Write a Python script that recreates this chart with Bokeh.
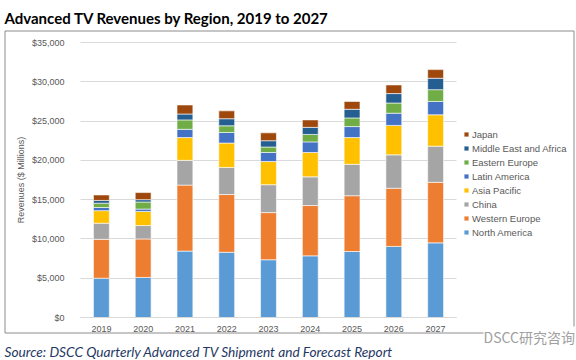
from bokeh.plotting import figure
from bokeh.models import (Label, Legend, LegendItem, LinearAxis, Grid,
                          NumeralTickFormatter, FixedTicker, Range1d, SingleIntervalTicker)
from bokeh.embed import file_html
from bokeh.resources import INLINE

years = ["2019", "2020", "2021", "2022", "2023", "2024", "2025", "2026", "2027"]
north_america = [5000, 5100, 8450, 8300, 7350, 7850, 8400, 9050, 9500]
western_europe = [4950, 4900, 8400, 7350, 6000, 6400, 7100, 7400, 7700]
china = [2050, 1700, 3150, 3450, 3550, 3650, 4000, 4250, 4600]
asia_pacific = [1600, 1800, 2900, 3100, 2950, 3100, 3400, 3750, 4000]
latin_america = [400, 300, 1050, 1350, 1150, 1350, 1400, 1550, 1700]
eastern_europe = [550, 900, 1200, 850, 700, 950, 1100, 1300, 1500]
middle_east_africa = [350, 300, 750, 900, 800, 900, 1100, 1200, 1450]
japan = [700, 900, 1150, 1000, 1000, 950, 1000, 1100, 1100]

series_names = ["North America", "Western Europe", "China", "Asia Pacific",
                "Latin America", "Eastern Europe", "Middle East and Africa", "Japan"]
series_keys = ["na", "we", "cn", "ap", "la", "ee", "mea", "jp"]
colors = ["#5B9BD5", "#ED7D31", "#A5A5A5", "#FFC000",
          "#4472C4", "#70AD47", "#255E91", "#9E480E"]

title_text = "Advanced TV Revenues by Region, 2019 to 2027"
source_text = "Source: DSCC Quarterly Advanced TV Shipment and Forecast Report"
watermark_text = "DSCC研究咨询"
y_axis_title = "Revenues ($ Millions)"
y_max = 35000
y_step = 5000

W, H = 576, 360
n = len(years)
xs = list(range(n))

# frame covers the whole canvas; plot area is 376 x 275 px at (80, 42)
px_per_cat = 376 / n
px_per_val = 275 / y_max
x_start = -80 / px_per_cat - 0.5
x_end = x_start + W / px_per_cat
y_start = -(H - 317) / px_per_val
y_end = y_start + H / px_per_val


def sx_to_x(sx):
    return x_start + sx / px_per_cat


def sy_to_y(sy):
    return y_start + sy / px_per_val


p = figure(width=W, height=H, output_backend="svg", toolbar_location=None,
           x_range=Range1d(x_start, x_end), y_range=Range1d(y_start, y_end),
           x_axis_location=None, y_axis_location=None, min_border=0)
p.outline_line_color = None
p.background_fill_color = "white"
p.border_fill_color = "white"
p.grid.visible = False

yticker = SingleIntervalTicker(interval=y_step)

grid = Grid(dimension=1, ticker=yticker, grid_line_color="#D9D9D9", grid_line_width=1)
if "cross_bounds" in grid.properties():
    grid.bounds = (0, y_max)
    grid.cross_bounds = (-0.5, n - 0.5)
    p.add_layout(grid)
else:
    ticks = list(range(0, y_max + 1, y_step))
    p.segment(x0=[-0.5] * len(ticks), x1=[n - 0.5] * len(ticks), y0=ticks, y1=ticks,
              line_color="#D9D9D9", line_width=1, level="underlay")

# outer chart border (decoration)
bl, br = sx_to_x(4.5), sx_to_x(573.5)
bb, bt = sy_to_y(27.5), sy_to_y(329.5)
p.line(x=[bl, br, br, bl, bl], y=[bb, bb, bt, bt, bb],
       line_color="#8C8C8C", line_width=1)

data = dict(x=xs, na=north_america, we=western_europe, cn=china,
            ap=asia_pacific, la=latin_america, ee=eastern_europe,
            mea=middle_east_africa, jp=japan)
renderers = p.vbar_stack(series_keys, x="x", width=0.38, color=colors,
                         line_color="white", line_width=0.6, source=data)

yaxis = LinearAxis(fixed_location=-0.5, ticker=yticker, bounds=(0, y_max),
                   formatter=NumeralTickFormatter(format="$0,0"))
yaxis.axis_line_color = None
yaxis.major_tick_line_color = None
yaxis.minor_tick_line_color = None
yaxis.major_label_standoff = 10
yaxis.major_label_text_font = "Liberation Sans"
yaxis.major_label_text_font_size = "9px"
yaxis.major_label_text_color = "#595959"
yaxis.axis_label = y_axis_title
yaxis.axis_label_text_font = "Liberation Sans"
yaxis.axis_label_text_font_size = "9px"
yaxis.axis_label_text_font_style = "normal"
yaxis.axis_label_text_color = "#595959"
yaxis.axis_label_standoff = 3
p.add_layout(yaxis, "left")

xaxis = LinearAxis(fixed_location=0, ticker=FixedTicker(ticks=xs), bounds=(-0.5, n - 0.5))
xaxis.major_label_overrides = {i: y for i, y in zip(xs, years)}
xaxis.axis_line_color = "#D9D9D9"
xaxis.major_tick_line_color = None
xaxis.minor_tick_line_color = None
xaxis.major_label_standoff = 2
xaxis.major_label_text_font = "Liberation Sans"
xaxis.major_label_text_font_size = "9px"
xaxis.major_label_text_color = "#595959"
p.add_layout(xaxis, "below")

items = [LegendItem(label=nm, renderers=[r]) for nm, r in zip(series_names, renderers)]
items.reverse()
legend = Legend(items=items, location=(463, 122), glyph_width=6, glyph_height=6,
                label_standoff=3, spacing=2, padding=0, margin=0,
                label_text_font="Liberation Sans", label_text_font_size="9.5px",
                label_text_color="#595959", label_height=12,
                border_line_color=None, background_fill_alpha=0)
p.add_layout(legend)

title = Label(x=4, y=343, x_units="screen", y_units="screen", text=title_text,
              text_font="Lato", text_font_style="bold", text_font_size="15px",
              text_color="#000000", text_baseline="alphabetic", text_align="left")
p.add_layout(title)

source = Label(x=4, y=9, x_units="screen", y_units="screen", text=source_text,
               text_font="Lato", text_font_style="italic", text_font_size="13.7px",
               text_color="#1F3864", text_baseline="alphabetic", text_align="left")
p.add_layout(source)

watermark = Label(x=483, y=24, x_units="screen", y_units="screen", text=watermark_text,
                  text_font="Noto Sans CJK SC", text_font_size="14px",
                  text_color="#A0A0A0", background_fill_color="white",
                  text_baseline="middle", text_align="left")
p.add_layout(watermark)

open("out.html", "w").write(file_html(p, INLINE))
